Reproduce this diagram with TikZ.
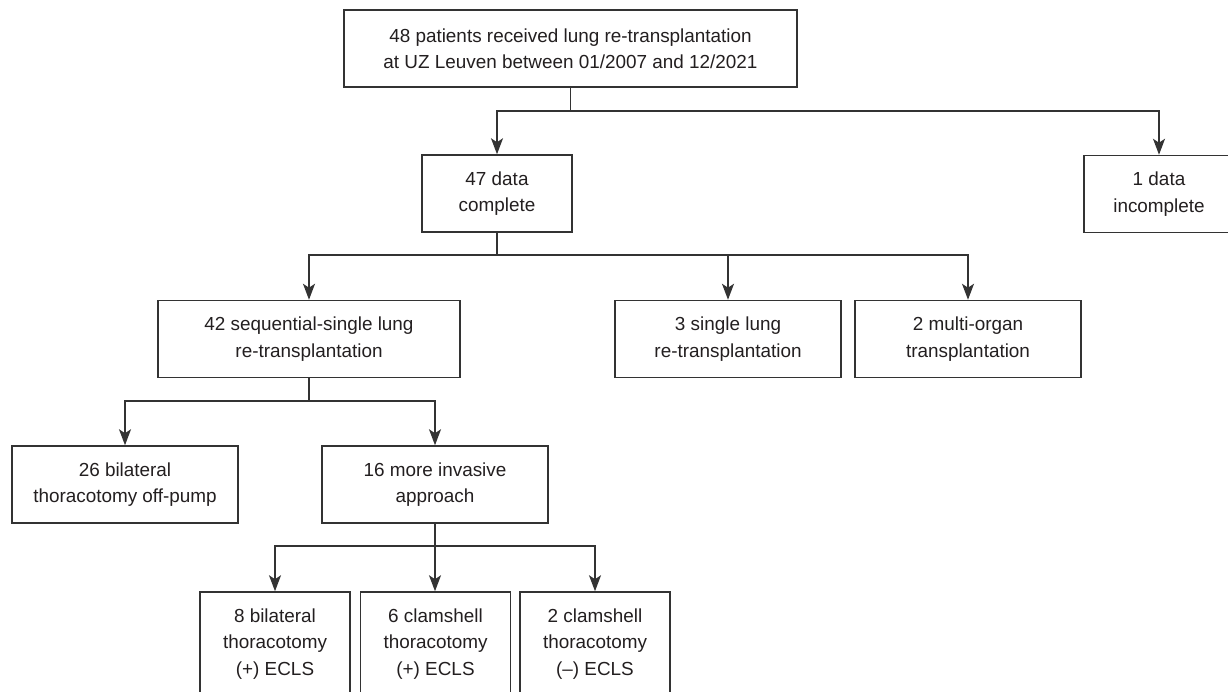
\documentclass[tikz,border=0pt]{standalone}
\usepackage{fontspec}
\setmainfont{Liberation Sans}
\usetikzlibrary{arrows.meta}
\definecolor{linec}{HTML}{333333}
\definecolor{txtc}{HTML}{231F20}
\begin{document}
\begin{tikzpicture}[x=1pt,y=-1pt,
  box/.style={draw=linec, line width=1.5pt, align=center, inner sep=0pt, text=txtc,
    font=\fontsize{18.9}{26.5}\selectfont, minimum height=77pt},
  tall/.style={box, minimum height=104pt, minimum width=150pt},
  arr/.style={draw=linec, line width=1.5pt, -{Stealth[length=16pt,width=12pt,inset=4pt]}},
  ln/.style={draw=linec, line width=1.5pt}]
\useasboundingbox (0,0) rectangle (1228,692);
\fill[white] (0,0) rectangle (1228,692);

\node[box, minimum width=453pt] (top) at (570.5,48.5) {48 patients received lung re-transplantation\\at UZ Leuven between 01/2007 and 12/2021};
\node[box, minimum width=150pt] (d47) at (497,193.5) {47 data\\complete};
\node[box, minimum width=150pt] (d1) at (1159,194) {1 data\\incomplete};
\node[box, minimum width=302pt] (s42) at (309,339) {42 sequential-single lung\\re-transplantation};
\node[box, minimum width=226pt] (s3) at (728,339) {3 single lung\\re-transplantation};
\node[box, minimum width=226pt] (m2) at (968,339) {2 multi-organ\\transplantation};
\node[box, minimum width=226pt] (b26) at (125,484.5) {26 bilateral\\thoracotomy off-pump};
\node[box, minimum width=226pt] (i16) at (435,484.5) {16 more invasive\\approach};
\node[tall] (e8) at (275,644) {8 bilateral\\thoracotomy\\(+) ECLS};
\node[tall] (c6) at (435.5,644) {6 clamshell\\thoracotomy\\(+) ECLS};
\node[tall] (c2) at (595,644) {2 clamshell\\thoracotomy\\(–) ECLS};

\coordinate (j1) at (top.south |- 0,111);
\coordinate (j2) at (d47.south |- 0,255);
\coordinate (j3) at (s42.south |- 0,401);
\coordinate (j4) at (i16.south |- 0,546);

\draw[ln] (top.south) -- (j1);
\draw[arr] (j1) -| (d47.north);
\draw[arr] (j1) -| (d1.north);

\draw[ln] (d47.south) -- (j2);
\draw[arr] (j2) -| (s42.north);
\draw[arr] (j2) -| (s3.north);
\draw[arr] (j2) -| (m2.north);

\draw[ln] (s42.south) -- (j3);
\draw[arr] (j3) -| (b26.north);
\draw[arr] (j3) -| (i16.north);

\draw[ln] (i16.south) -- (j4);
\draw[arr] (j4) -| (e8.north);
\draw[arr] (j4) -- (c6.north -| j4);
\draw[arr] (j4) -| (c2.north);
\end{tikzpicture}
\end{document}
